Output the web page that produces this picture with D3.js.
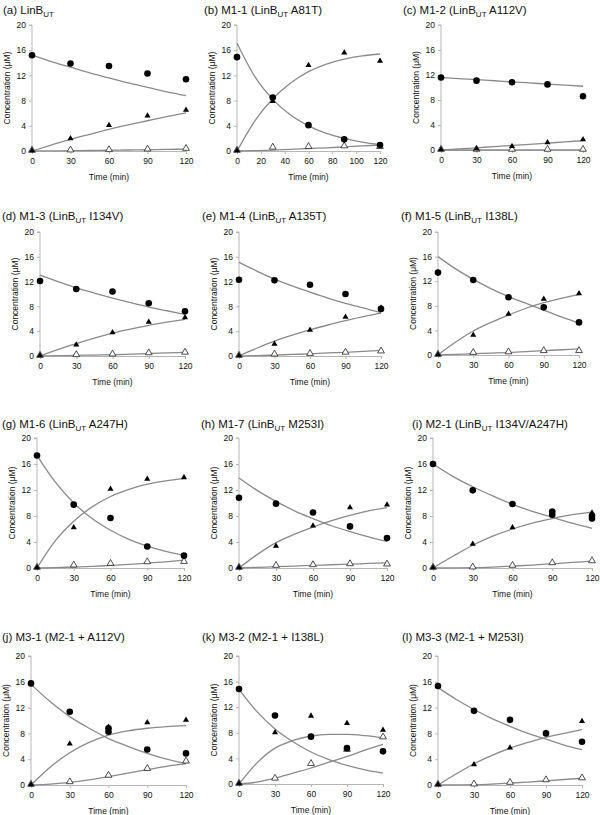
<!DOCTYPE html>
<html><head><meta charset="utf-8">
<script src="https://cdn.jsdelivr.net/npm/d3@7/dist/d3.min.js"></script>
<style>body{margin:0;background:#fff}svg{display:block;font-family:"Liberation Sans",Arial,sans-serif}</style>
</head><body><svg id="c" width="600" height="815"></svg>
<script>
// ---------- DATA ----------
const titlePre  = ["(a) LinB","(b) M1-1 (LinB","(c) M1-2 (LinB","(d) M1-3 (LinB","(e) M1-4 (LinB","(f) M1-5 (LinB","(g) M1-6 (LinB","(h) M1-7 (LinB","(i) M2-1 (LinB","(j) M3-1 (M2-1 + A112V)","(k) M3-2 (M2-1 + I138L)","(l) M3-3 (M2-1 + M253I)"];
const titleSub  = ["UT","UT","UT","UT","UT","UT","UT","UT","UT","","",""];
const titlePost = [""," A81T)"," A112V)"," I134V)"," A135T)"," I138L)"," A247H)"," M253I)"," I134V/A247H)","","",""];
const timePoints = [0,30,60,90,120];
const fitTimes = [0,15,30,45,60,75,90,105,120];
const xTicksStd = [0,30,60,90,120];
const xTicksB = [0,20,40,60,80,100,120];
const yTicks = [0,4,8,12,16,20];
const yLabel = "Concentration (\u03bcM)";
const xLabel = "Time (min)";
// substrate (filled circles)
const substrate = [
 [15.2,13.9,13.5,12.3,11.4],[14.9,8.5,4.1,1.85,0.95],[11.6,11.1,10.85,10.5,8.6],
 [12.1,10.8,10.4,8.5,7.2],[12.3,12.2,11.5,10.0,7.6],[13.4,12.2,9.4,7.75,5.3],
 [17.3,9.75,7.7,3.3,1.9],[10.8,9.9,8.55,6.4,4.6],[16.0,11.95,9.85,8.7,8.05],
 [15.75,11.35,8.25,5.5,4.9],[14.85,10.7,7.4,5.6,5.1],[15.35,11.5,10.1,8.0,6.7]];
// replicate substrate points [panel, time, value]
const substrateRep = [[8,90,8.2],[8,120,7.6],[9,60,8.8]];
// first product (filled triangles)
const product1 = [
 [0,1.9,4.0,5.5,6.4],[0,7.8,13.5,15.5,14.2],[0,0.1,0.5,1.1,1.6],
 [0,1.7,3.7,5.4,6.1],[0,1.85,4.1,6.2,7.7],[0,3.15,6.55,9.0,9.9],
 [0,6.15,12.05,13.6,13.85],[0,3.3,6.4,9.2,9.65],[0,3.6,6.15,8.05,8.4],
 [0,6.3,8.9,9.6,10.0],[0,7.95,10.55,9.4,8.35],[0,3.1,5.7,8.0,9.8]];
// second product (open triangles)
const product2 = [
 [0,0.05,0.1,0.2,0.3],[0,0.5,0.6,0.7,0.6],[0,0,0,0,0],
 [0,0.1,0.2,0.4,0.5],[0,0.2,0.3,0.5,0.7],[0,0.3,0.4,0.6,0.6],
 [0,0.35,0.6,0.85,0.9],[0,0.3,0.4,0.55,0.5],[0,0.05,0.3,0.7,1.0],
 [0,0.4,1.4,2.45,3.6],[0,0.8,3.1,5.3,7.25],[0,0.05,0.3,0.7,1.0]];
// fitted curves at fitTimes
const fitSubstrate = [
 [15.2,14.2,13.3,12.4,11.6,10.8,10.1,9.4,8.8],
 [17.1,11.8,8.2,5.7,4.0,2.8,2.0,1.4,1.0],
 [11.6,11.43,11.25,11.08,10.9,10.73,10.55,10.38,10.2],
 [13.05,12.0,11.0,10.15,9.35,8.6,7.9,7.3,6.7],
 [15.1,13.7,12.4,11.3,10.3,9.35,8.5,7.75,7.0],
 [16.0,14.0,12.3,10.8,9.5,8.4,7.3,6.2,5.2],
 [17.3,13.2,10.0,7.6,5.8,4.4,3.35,2.55,1.95],
 [13.85,11.9,10.25,8.8,7.6,6.5,5.6,4.8,4.1],
 [16.0,14.1,12.5,11.1,9.8,8.7,7.8,6.9,6.1],
 [15.6,12.9,10.6,8.8,7.2,6.0,4.9,4.0,3.3],
 [14.8,11.3,8.6,6.6,5.0,3.8,2.9,2.2,1.7],
 [15.1,13.3,11.7,10.3,9.1,8.0,7.1,6.2,5.5]];
const fitProduct1 = [
 [0,0.95,1.85,2.65,3.45,4.15,4.8,5.45,6.05],
 [0,4.8,8.3,10.8,12.6,13.8,14.6,15.1,15.4],
 [0,0.17,0.35,0.55,0.72,0.9,1.1,1.3,1.5],
 [0,1.05,2.0,2.9,3.7,4.35,4.95,5.45,5.9],
 [0,1.25,2.4,3.35,4.2,5.0,5.7,6.35,6.9],
 [0,2.1,3.9,5.3,6.5,7.6,8.5,9.2,9.8],
 [0,4.2,7.2,9.4,11.0,12.1,12.9,13.4,13.8],
 [0,2.1,3.9,5.2,6.3,7.3,8.1,8.8,9.3],
 [0,1.8,3.5,4.9,6.0,6.9,7.6,8.2,8.6],
 [0,2.8,5.0,6.6,7.75,8.4,8.8,9.05,9.2],
 [0,3.3,5.6,6.8,7.5,7.75,7.75,7.55,7.2],
 [0,1.7,3.3,4.6,5.7,6.6,7.4,8.0,8.6]];
const fitProduct2 = [
 [0,0.02,0.05,0.08,0.12,0.16,0.2,0.25,0.3],
 [0,0.05,0.15,0.25,0.4,0.5,0.65,0.8,0.95],
 [0,0,0,0,0,0,0,0,0],
 [0,0.05,0.1,0.15,0.2,0.3,0.4,0.5,0.6],
 [0,0.05,0.15,0.25,0.35,0.5,0.6,0.75,0.9],
 [0,0.1,0.2,0.3,0.4,0.55,0.7,0.85,1.0],
 [0,0.05,0.15,0.25,0.4,0.55,0.75,0.95,1.2],
 [0,0.1,0.2,0.3,0.4,0.5,0.6,0.7,0.8],
 [0,0.02,0.05,0.15,0.3,0.45,0.65,0.85,1.05],
 [0,0.15,0.4,0.8,1.3,1.85,2.4,2.9,3.3],
 [0,0.3,0.9,1.7,2.5,3.4,4.3,5.3,6.2],
 [0,0.02,0.05,0.15,0.3,0.45,0.65,0.85,1.05]];

// ---------- LAYOUT ----------
// [axisX, x at 120, y at 20, y at 0, titleX, titleBaseline]
const frames = [
 [32,186,25,151,3,14],[237,380,25,151,204,14],[441,583,25,150,403,14],
 [40,185,232,356,2,220],[239,381,232,356,202,220],[438,579,232,355,401,220],
 [37,184,438,568,2,428],[239,387,438,568,201,428],[433,592,438,568,412,428],
 [31,186,656,785,2,641],[239,383,656,784,202,641],[438,582,656,785,402,641]];

const svg = d3.select("#c");
const fitColor = "#8a8a8a", axisColor = "#b5b5b5";
const triFilled = d3.symbol().type(d3.symbolTriangle).size(16);
const triOpen = d3.symbol().type(d3.symbolTriangle).size(20);

frames.forEach((f,i)=>{
  const [ax,x120,y20,y0,tx,ty] = f;
  const g = svg.append("g");
  const x = d3.scaleLinear().domain([0,120]).range([ax,x120]);
  const y = d3.scaleLinear().domain([0,20]).range([y0,y20]);

  // title
  const t = g.append("text").attr("x",tx).attr("y",ty).attr("font-size",11.5).attr("fill","#111");
  t.append("tspan").text(titlePre[i]);
  if(titleSub[i]){
    t.append("tspan").attr("font-size",8).attr("dy",2.5).text(titleSub[i]);
    t.append("tspan").attr("dy",-2.5).text(titlePost[i]);
  }

  // axes
  const yAxis = d3.axisLeft(y).tickValues(yTicks).tickSize(3).tickPadding(3);
  const ya = g.append("g").attr("transform",`translate(${ax},0)`).call(yAxis);
  const xAxis = d3.axisBottom(x).tickValues(i===1?xTicksB:xTicksStd).tickSize(3).tickPadding(4);
  const xa = g.append("g").attr("transform",`translate(0,${y0})`).call(xAxis);
  [ya,xa].forEach(a=>{
    a.select(".domain").attr("stroke",axisColor).attr("stroke-width",1);
    a.selectAll(".tick line").attr("stroke",axisColor);
    a.selectAll(".tick text").attr("font-size",8.5).attr("fill","#111").attr("font-family","'Liberation Sans',Arial,sans-serif");
  });
  ya.select(".domain").attr("d",`M-3,${y20}H0V${y0}`);

  g.append("text").attr("transform",`translate(${ax-22},${(y0+y20)/2}) rotate(-90)`)
    .attr("text-anchor","middle").attr("font-size",8.5).attr("fill","#111").text(yLabel);
  g.append("text").attr("x",(ax+x120)/2).attr("y",y0+29).attr("text-anchor","middle")
    .attr("font-size",8.5).attr("fill","#111").text(xLabel);

  // fitted curves
  const line = d3.line().x((d,k)=>x(fitTimes[k])).y(d=>y(d)).curve(d3.curveMonotoneX);
  [fitSubstrate[i],fitProduct1[i],fitProduct2[i]].forEach(arr=>{
    g.append("path").attr("d",line(arr)).attr("fill","none").attr("stroke",fitColor).attr("stroke-width",1.3);
  });

  // markers
  product2[i].forEach((v,k)=>{
    g.append("path").attr("d",triOpen).attr("transform",`translate(${x(timePoints[k])},${y(v)-0.7})`)
      .attr("fill","#fff").attr("stroke","#222").attr("stroke-width",0.8);
  });
  product1[i].forEach((v,k)=>{
    g.append("path").attr("d",triFilled).attr("transform",`translate(${x(timePoints[k])},${y(v)-0.6})`)
      .attr("fill","#000");
  });
  substrate[i].forEach((v,k)=>{
    g.append("circle").attr("cx",x(timePoints[k])).attr("cy",y(v)).attr("r",3.3).attr("fill","#000");
  });
  substrateRep.filter(r=>r[0]===i).forEach(r=>{
    g.append("circle").attr("cx",x(r[1])).attr("cy",y(r[2])).attr("r",3.3).attr("fill","#000");
  });
});
</script></body></html>
